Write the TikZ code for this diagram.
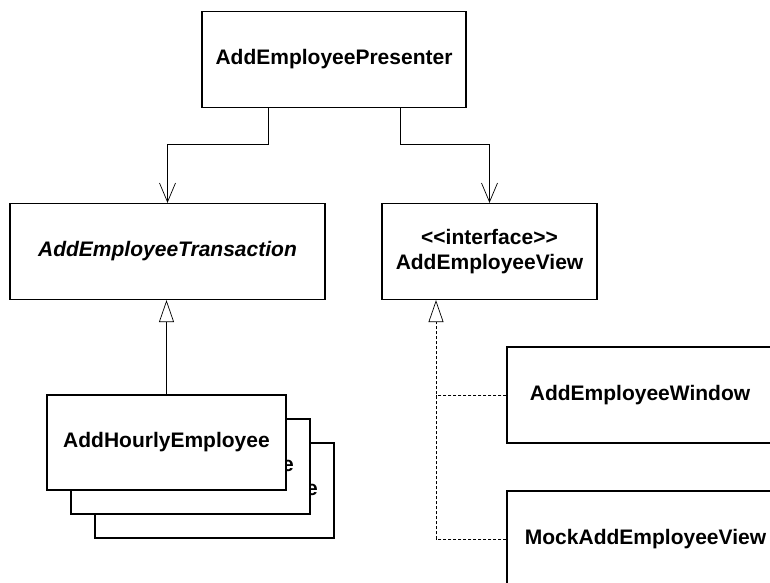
\documentclass[tikz,border=0pt]{standalone}
\usepackage{fontspec}
\setmainfont{Liberation Sans}
\usepackage{tikz}
\usetikzlibrary{arrows.meta}

\begin{document}
\begin{tikzpicture}[x=1pt,y=-1pt,every node/.style={draw, fill=white, line width=1.2pt, inner sep=0pt, align=center, minimum height=96pt, font=\fontsize{21}{25}\selectfont\bfseries},assoc/.style={line width=0.7pt, -{Straight Barb[length=19pt,width=16pt]}},realize/.style={line width=0.7pt, dash pattern=on 3pt off 2pt}]
	
	\useasboundingbox (0,0) rectangle (770,582);
	\clip (0,0) rectangle (770,582);
	
	\node[minimum width=264pt] (presenter) at (334,59.5) {AddEmployeePresenter};
	\node[minimum width=315pt, font=\fontsize{21}{25}\selectfont\bfseries\itshape] (transaction) at (167.5,251.5) {AddEmployeeTransaction};
	\node[minimum width=215pt] (view) at (489.5,251.5) {<{}<interface>{}>\\AddEmployeeView};
	\node[minimum width=266pt] (window) at (640,395) {AddEmployeeWindow};
	\node[minimum width=277pt] (mock) at (645.5,539) {MockAddEmployeeView};
	
	\node[minimum width=239pt, minimum height=95pt] (hourlyc) at (214.5,490.5) {AddHourlyEmployee};
	\node[minimum width=239pt, minimum height=95pt] (hourlyb) at (190.5,466.5) {AddHourlyEmployee};
	\node[minimum width=239pt, minimum height=95pt] (hourly) at (166.5,442.5) {AddHourlyEmployee};
	
	\draw[assoc] ([xshift=-66pt]presenter.south) -- ++(0,36) -| (transaction.north);
	\draw[assoc] ([xshift=66pt]presenter.south) -- ++(0,36) -| (view.north);
	
	\draw[line width=0.7pt, -{Triangle[open,length=22pt,width=15pt,fill=white]}] (hourly.north) -- (hourly.north |- transaction.south);
	
	\coordinate (realizes) at ([xshift=-53.5pt]view.south);
	\draw[realize] (window.west) -- (window.west -| realizes);
	\draw[realize, -{Triangle[open,length=22pt,width=15pt,fill=white]}] (mock.west) -| (realizes);
	
\end{tikzpicture}
\end{document}
